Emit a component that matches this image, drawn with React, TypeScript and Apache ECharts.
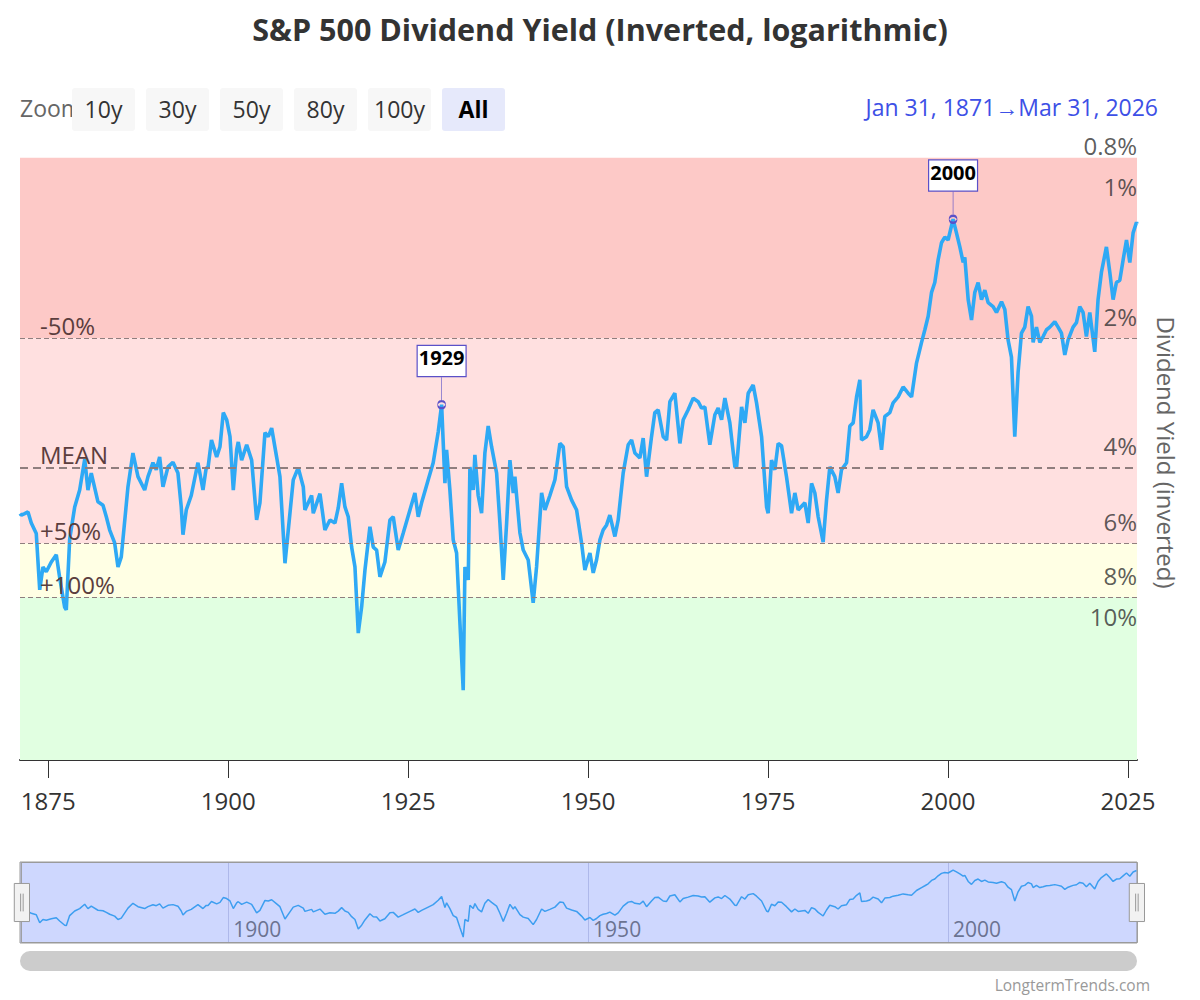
import React, { useEffect, useRef } from 'react';
import * as echarts from 'echarts';

const TITLE = 'S&P 500 Dividend Yield (Inverted, logarithmic)';
const FONT = "'Open Sans', 'Noto Sans', sans-serif";

// decimal years (Jan 31, 1871 ... Mar 31, 2026)
const years = [
  1871.08, 1871.26, 1871.73, 1872.19, 1872.65, 1873.34, 1873.82, 1874.27, 1874.73, 1875.43,
  1876.12, 1876.59, 1877.29, 1877.51, 1877.98, 1878.68, 1879.37, 1880.07, 1880.52, 1880.98,
  1881.91, 1882.61, 1883.07, 1883.54, 1884.23, 1884.69, 1885.15, 1886.08, 1886.77, 1887.47,
  1888.4, 1888.86, 1889.55, 1890.01, 1890.48, 1890.94, 1891.64, 1892.33, 1893.02, 1893.48,
  1893.72, 1894.18, 1894.87, 1895.8, 1896.5, 1896.95, 1897.2, 1897.68, 1898.4, 1898.86,
  1899.32, 1899.79, 1900.25, 1900.71, 1901.18, 1901.4, 1901.87, 1902.57, 1903.26, 1903.95,
  1904.41, 1905.11, 1905.57, 1906.04, 1906.73, 1907.19, 1907.89, 1908.58, 1909.04, 1909.73,
  1910.43, 1910.66, 1911.59, 1911.82, 1912.75, 1913.44, 1914.14, 1914.83, 1915.29, 1915.76,
  1916.22, 1916.68, 1917.15, 1917.61, 1918.07, 1918.54, 1919.0, 1919.69, 1920.15, 1920.62,
  1921.08, 1921.77, 1922.47, 1922.93, 1923.62, 1924.32, 1925.25, 1925.94, 1926.4, 1926.87,
  1927.79, 1928.48, 1929.18, 1929.65, 1930.11, 1930.34, 1930.8, 1931.26, 1931.73, 1932.19,
  1932.65, 1932.89, 1933.35, 1933.58, 1934.04, 1934.27, 1934.73, 1935.2, 1935.66, 1936.12,
  1936.59, 1937.29, 1937.75, 1938.21, 1938.68, 1939.14, 1939.6, 1939.83, 1940.53, 1940.99,
  1941.68, 1942.37, 1942.84, 1943.54, 1944.0, 1944.69, 1945.39, 1946.08, 1946.54, 1947.01,
  1947.71, 1948.4, 1949.09, 1949.55, 1950.25, 1950.71, 1951.17, 1951.64, 1952.09, 1952.57,
  1953.02, 1953.72, 1954.18, 1954.87, 1955.57, 1956.04, 1956.5, 1957.19, 1957.65, 1958.12,
  1958.81, 1959.27, 1959.73, 1960.43, 1960.9, 1961.36, 1962.05, 1962.75, 1963.21, 1963.9,
  1964.6, 1965.29, 1965.76, 1966.22, 1966.91, 1967.61, 1968.07, 1968.54, 1969.0, 1969.69,
  1970.39, 1970.62, 1971.32, 1971.78, 1972.24, 1972.93, 1973.4, 1974.1, 1974.79, 1975.01,
  1975.48, 1975.94, 1976.4, 1976.87, 1977.56, 1978.26, 1978.72, 1979.18, 1980.11, 1980.57,
  1981.04, 1981.5, 1981.96, 1982.65, 1983.12, 1983.58, 1984.27, 1984.73, 1985.2, 1985.9,
  1986.36, 1986.82, 1987.29, 1987.75, 1987.98, 1988.67, 1989.13, 1989.59, 1990.29, 1990.76,
  1991.22, 1991.91, 1992.37, 1993.07, 1993.76, 1994.46, 1994.93, 1995.62, 1996.32, 1996.78,
  1997.24, 1997.71, 1998.16, 1998.62, 1999.09, 1999.55, 2000.01, 2000.7, 2001.17, 2001.64,
  2002.1, 2002.33, 2002.8, 2003.26, 2003.72, 2004.18, 2004.65, 2005.11, 2005.57, 2006.26,
  2006.73, 2007.43, 2007.89, 2008.34, 2008.81, 2009.27, 2009.73, 2010.2, 2010.66, 2011.12,
  2011.59, 2011.82, 2012.28, 2012.75, 2013.21, 2013.68, 2014.14, 2014.83, 2015.29, 2015.76,
  2016.22, 2016.68, 2017.37, 2017.84, 2018.3, 2018.76, 2019.22, 2019.69, 2020.38, 2020.84,
  2021.31, 2022.0, 2022.47, 2022.93, 2023.39, 2023.86, 2024.32, 2024.79, 2025.25, 2025.71,
  2026.18, 2026.25,
];

// dividend yield in %
const yields = [
  5.75, 5.8, 5.75, 5.7, 6.05, 6.4, 8.65, 7.65, 7.85, 7.45,
  7.17, 8.1, 9.5, 9.63, 6.6, 5.55, 5.07, 4.3, 5.07, 4.63,
  5.4, 5.5, 5.85, 6.28, 6.73, 7.65, 7.25, 4.98, 4.16, 4.72,
  5.07, 4.72, 4.38, 4.55, 4.25, 4.98, 4.48, 4.37, 4.63, 5.55,
  6.44, 5.64, 5.22, 4.38, 5.07, 4.5, 4.5, 3.88, 4.25, 4.02,
  3.35, 3.48, 3.81, 5.07, 4.09, 3.92, 4.32, 3.98, 4.32, 5.95,
  5.43, 3.73, 3.81, 3.64, 4.25, 4.72, 7.5, 5.74, 4.8, 4.5,
  4.98, 5.64, 5.22, 5.74, 5.17, 6.28, 5.95, 6.05, 5.58, 4.89,
  5.55, 5.85, 6.88, 7.65, 10.9, 9.47, 7.78, 6.17, 6.88, 6.99,
  8.07, 7.45, 5.95, 5.85, 6.99, 6.38, 5.64, 5.15, 5.85, 5.43,
  4.8, 4.38, 3.71, 3.21, 4.89, 4.09, 5.07, 6.62, 7.1, 10.3,
  14.8, 7.65, 8.2, 4.48, 5.07, 4.2, 5.22, 5.74, 4.16, 3.6,
  4.02, 4.63, 6.05, 8.2, 6.05, 4.32, 5.15, 4.72, 6.38, 6.99,
  7.37, 9.27, 7.65, 5.15, 5.64, 5.22, 4.8, 3.95, 4.02, 4.98,
  5.35, 5.64, 6.73, 7.78, 7.1, 7.9, 7.37, 6.62, 6.28, 6.11,
  5.8, 6.5, 5.95, 4.63, 3.98, 3.88, 4.16, 4.27, 3.84, 4.72,
  3.81, 3.35, 3.3, 3.81, 3.88, 3.16, 3.02, 3.95, 3.48, 3.3,
  3.1, 3.16, 3.27, 3.25, 3.98, 3.39, 3.27, 3.48, 3.1, 3.54,
  4.48, 4.5, 3.25, 3.54, 3.02, 2.89, 3.18, 3.81, 5.55, 5.74,
  4.32, 4.55, 3.95, 4.0, 4.72, 5.74, 5.15, 5.64, 5.43, 6.05,
  4.89, 5.15, 5.85, 6.7, 5.35, 4.48, 4.72, 5.15, 4.55, 4.38,
  3.6, 3.54, 3.08, 2.81, 3.88, 3.81, 3.67, 3.3, 3.54, 4.09,
  3.42, 3.35, 3.18, 3.08, 2.92, 3.02, 3.08, 2.57, 2.3, 2.15,
  2.0, 1.76, 1.67, 1.48, 1.35, 1.31, 1.33, 1.19, 1.28, 1.38,
  1.5, 1.46, 1.83, 2.04, 1.76, 1.67, 1.83, 1.74, 1.86, 1.9,
  1.96, 1.85, 1.93, 2.27, 2.49, 3.81, 2.7, 2.19, 2.12, 1.9,
  2.0, 2.3, 2.12, 2.3, 2.23, 2.15, 2.12, 2.06, 2.12, 2.19,
  2.46, 2.27, 2.12, 2.07, 1.9, 1.96, 2.23, 1.96, 2.42, 1.83,
  1.58, 1.38, 1.58, 1.83, 1.67, 1.65, 1.48, 1.33, 1.5, 1.28,
  1.21, 1.22,
];

const X_MIN = 1871.08;
const X_MAX = 2026.25;
const xTickYears = [1875, 1900, 1925, 1950, 1975, 2000, 2025];
const navTickYears = [1900, 1950, 2000];
const yTickValues = [0.8, 1, 2, 4, 6, 8, 10];
const Y_MIN = 0.8;
const Y_MAX = 21.5;
const NAV_Y_MIN = 0.88;
const NAV_Y_MAX = 18.5;

const bandEdges = [0.856, 2.25, 6.75, 9, 21.5];
const bandColors = ['#fdc9c7', '#ffe0e0', '#ffffe4', '#e1ffe1'];
const refLineValues = [2.25, 4.5, 6.75, 9];
const refLineLabels = ['-50%', 'MEAN', '+50%', '+100%'];
const annotationLabels = ['1929', '2000'];
const annotationYears = [1929.65, 2000.7];
const rangeButtons = ['10y', '30y', '50y', '80y', '100y', 'All'];
const rangeFrom = 'Jan 31, 1871';
const rangeTo = 'Mar 31, 2026';
const CREDIT = 'LongtermTrends.com';

const ANNOT_COLOR = '#5a50c8';
const LINE_COLOR = '#2ea9f5';

export default function App() {
  const ref = useRef<HTMLDivElement>(null);

  useEffect(() => {
    document.body.style.margin = '0';
    document.body.style.overflow = 'hidden';
    if (!ref.current) return;
    const chart = echarts.init(ref.current, null, { renderer: 'svg' });

    const seriesData = years.map((y, i) => [y, yields[i]]);

    const graphics: any[] = [];
    graphics.push({
      type: 'text', x: 20, y: 108, z: 10,
      style: { text: 'Zoom', fontSize: 23, fill: '#666', verticalAlign: 'middle', fontFamily: FONT },
    });
    rangeButtons.forEach((b, i) => {
      const x = 72 + i * 74;
      const selected = b === 'All';
      graphics.push({
        type: 'rect', z: 11,
        shape: { x, y: 88, width: 63, height: 43, r: 3 },
        style: { fill: selected ? '#e6e9fb' : '#f7f7f7' },
      });
      graphics.push({
        type: 'text', z: 12,
        x: x + 31.5, y: 109,
        style: {
          text: b, fontSize: 23, fill: selected ? '#000' : '#333',
          fontWeight: selected ? 'bold' : 'normal',
          align: 'center', verticalAlign: 'middle', fontFamily: FONT,
        },
      });
    });
    graphics.push({
      type: 'text', z: 10, x: 1158, y: 107,
      style: {
        text: `${rangeFrom}→${rangeTo}`, fontSize: 23, fill: '#3d50e6',
        align: 'right', verticalAlign: 'middle', fontFamily: FONT,
      },
    });
    graphics.push({
      type: 'rect', z: 10,
      shape: { x: 20, y: 951, width: 1117, height: 20, r: 10 },
      style: { fill: '#cccccc' },
    });
    graphics.push({
      type: 'text', z: 10, x: 1150, y: 985,
      style: { text: CREDIT, fontSize: 15.5, fill: '#999', align: 'right', verticalAlign: 'middle', fontFamily: FONT },
    });

    const option: any = {
      animation: false,
      textStyle: { fontFamily: FONT },
      title: {
        text: TITLE, left: 'center', top: 8,
        textStyle: { fontSize: 30.5, fontWeight: 'bold', color: '#333', fontFamily: FONT },
      },
      grid: [
        { left: 20, right: 63, top: 145, height: 615 },
        {
          left: 20, right: 63, top: 862, height: 81, show: true,
          backgroundColor: '#ced7fe', borderColor: '#9a9a9a', borderWidth: 1,
        },
      ],
      xAxis: [
        {
          type: 'value', gridIndex: 0, min: X_MIN, max: X_MAX,
          axisLine: { show: true, onZero: false, lineStyle: { color: '#333', width: 2 } },
          axisTick: { show: true, customValues: xTickYears, length: 18, lineStyle: { color: '#333', width: 1 } },
          axisLabel: {
            customValues: xTickYears, formatter: (v: number) => String(v),
            fontSize: 24, color: '#333', margin: 28,
          },
          splitLine: { show: false },
        },
        {
          type: 'value', gridIndex: 1, min: X_MIN, max: X_MAX,
          axisLine: { show: false },
          axisTick: { show: false, customValues: navTickYears },
          axisLabel: {
            customValues: navTickYears, formatter: (v: number) => String(v),
            inside: true, fontSize: 21, color: '#6b7391', align: 'left', margin: 4,
            padding: [0, 0, 0, 5],
          },
          splitLine: { show: true, lineStyle: { color: '#aeb8ea', width: 1 } },
        },
      ],
      yAxis: [
        {
          type: 'log', logBase: 10, gridIndex: 0, min: Y_MIN, max: Y_MAX, inverse: true,
          position: 'right',
          axisLine: { show: false }, axisTick: { show: false }, axisLabel: { show: false },
          splitLine: { show: false },
          name: 'Dividend Yield (inverted)', nameLocation: 'middle', nameRotate: -90, nameGap: 17,
          nameTextStyle: { fontSize: 24, color: '#666', fontFamily: FONT },
        },
        {
          type: 'log', logBase: 10, gridIndex: 1, min: NAV_Y_MIN, max: NAV_Y_MAX, inverse: true,
          show: false,
        },
      ],
      dataZoom: [
        {
          type: 'slider', xAxisIndex: 0, filterMode: 'none', start: 0, end: 100,
          left: 20, right: 63, top: 862, height: 81,
          showDetail: false, showDataShadow: false, brushSelect: false, moveHandleSize: 0,
          backgroundColor: 'rgba(0,0,0,0)', borderColor: '#9a9a9a', fillerColor: 'rgba(0,0,0,0)',
          handleIcon: 'path://M0,0 L12,0 L12,30 L0,30 Z M5,8 L5,22 M7,8 L7,22',
          handleSize: '47%',
          handleStyle: { color: '#f2f2f2', borderColor: '#999', borderWidth: 1 },
          emphasis: { handleStyle: { color: '#f2f2f2', borderColor: '#999', borderWidth: 1 } },
          z: 6,
        },
      ],
      series: [
        {
          // background bands, reference lines and y tick labels
          type: 'scatter', xAxisIndex: 0, yAxisIndex: 0, z: 1, silent: true,
          symbolSize: 0, clip: false,
          data: yTickValues.map((v) => [X_MAX, v]),
          label: {
            show: true, position: 'left', distance: 0,
            formatter: (p: any) => `${p.value[1]}%`,
            fontSize: 24, color: '#333',
          },
          markArea: {
            silent: true,
            data: bandColors.map((c, i) => [
              { yAxis: bandEdges[i], itemStyle: { color: c, opacity: 1 } },
              { yAxis: bandEdges[i + 1] },
            ]),
          },
          markLine: {
            silent: true, symbol: 'none',
            data: refLineValues.map((v, i) => ({
              yAxis: v,
              lineStyle: {
                type: i === 1 ? [8, 5] : [5, 3],
                width: i === 1 ? 2 : 1.2,
                color: '#8f7e7e',
              },
              label: {
                show: true, position: 'insideStartTop', distance: [20, 1],
                formatter: () => refLineLabels[i],
                fontSize: 24, color: '#5b3e3e',
              },
            })),
          },
        },
        {
          type: 'line', xAxisIndex: 0, yAxisIndex: 0, z: 3,
          data: seriesData, symbol: 'none', showSymbol: false,
          lineStyle: { width: 3.6, color: LINE_COLOR },
          itemStyle: { color: LINE_COLOR },
          markPoint: {
            silent: true,
            symbol: 'path://M4,0 L4,24 M7.5,27.5 A3.5,3.5 0 1,1 0.5,27.5 A3.5,3.5 0 1,1 7.5,27.5',
            symbolSize: [8, 31],
            symbolOffset: [0, -12],
            itemStyle: { color: 'rgba(255,255,255,0)', borderColor: ANNOT_COLOR, borderWidth: 1.2 },
            label: {
              show: true, position: 'top', distance: 0,
              formatter: (p: any) => p.name,
              backgroundColor: '#fff', borderColor: ANNOT_COLOR, borderWidth: 1.2,
              padding: [1, 1, 7, 1], fontSize: 20, fontWeight: 'bold', color: '#000',
              lineHeight: 22,
            },
            data: annotationLabels.map((name, i) => {
              const idx = years.indexOf(annotationYears[i]);
              return { name, coord: [years[idx], yields[idx]] };
            }),
          },
        },
        {
          type: 'line', xAxisIndex: 1, yAxisIndex: 1, z: 2, silent: true,
          data: seriesData, symbol: 'none', showSymbol: false,
          lineStyle: { width: 1.5, color: '#3d9ef0' },
        },
      ],
      graphic: graphics,
    };

    chart.setOption(option);
    return () => chart.dispose();
  }, []);

  return <div ref={ref} style={{ width: 1200, height: 1000 }} />;
}
